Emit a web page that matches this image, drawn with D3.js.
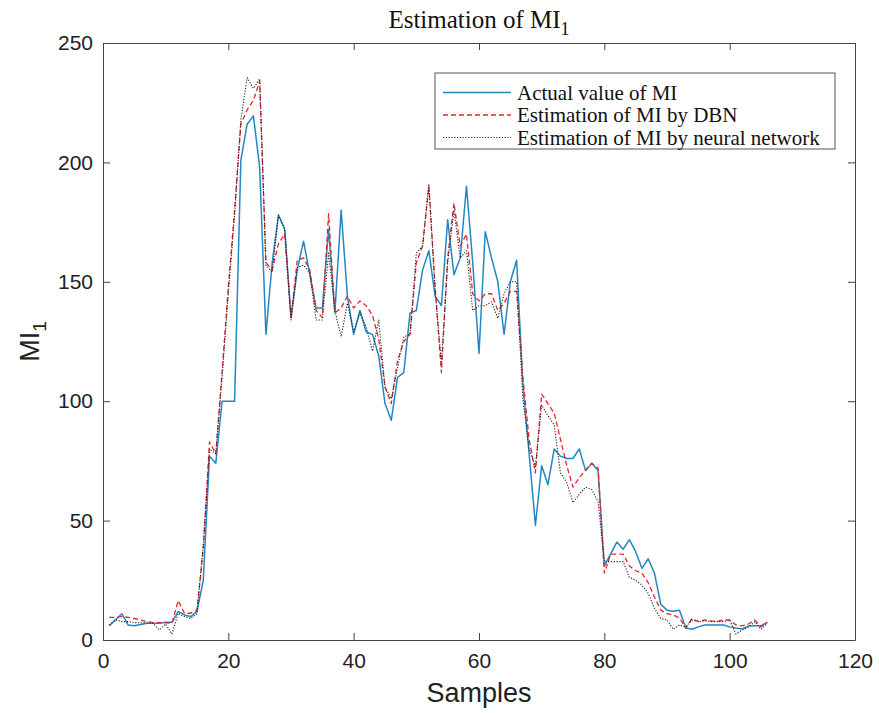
<!DOCTYPE html>
<html>
<head>
<meta charset="utf-8">
<script src="https://cdn.jsdelivr.net/npm/d3@7"></script>
<style>
  body { margin: 0; background: #fff; }
  svg { display: block; }
</style>
</head>
<body>
<svg id="chart" width="879" height="713"></svg>
<script>
// values, one per sample (1..106)
var actual = [6, 8.5, 11, 6.3, 6, 6.5, 7, 7, 7, 7.4, 7.4, 12, 10.5, 9.8, 12, 25,
  77, 74, 100, 100, 100, 201, 216, 219.5, 198, 128, 158, 178, 172, 135,
  155, 167, 153, 139, 139, 172, 137, 180, 144, 128, 138, 129, 128, 119, 99,
  92, 110, 112, 137, 138, 155, 163, 144, 140, 176, 153, 160, 190, 158, 120,
  171, 160, 150, 128, 150, 159, 107, 78, 48, 73, 65, 80, 77, 76, 76,
  80, 71, 74, 71, 31, 36, 41, 38, 42, 37, 30, 34, 28, 15, 12.5,
  12, 12.5, 5, 4.5, 5.5, 6.3, 6.3, 6.3, 6.3, 5.5, 5, 4.6, 5.9, 6, 6, 7.4];

var dbn = [9.5, 9.5, 9.8, 9.5, 9, 8.4, 7.7, 7.3, 7.3, 7.2, 7, 16.5, 11.2, 11.2, 12.6, 38,
  83, 78, 112, 148, 180, 216, 222, 226, 234, 158, 155, 166, 170, 135,
  159, 160, 155, 138, 135, 178.5, 137, 139, 144, 139, 142, 140, 136, 126, 106,
  99, 117, 125, 128, 158, 165, 190, 148, 112, 160, 183, 165, 170, 145, 142,
  145, 145, 138, 141, 146, 146, 110, 84, 70, 103, 99, 95, 84, 73, 64,
  68, 71, 74, 72, 28, 36, 36, 36, 31, 29, 28, 24, 18, 12.6, 11,
  10.5, 9.2, 5, 9, 7.7, 8.4, 8, 7.8, 8.4, 8.4, 6.3, 5.9, 6.7, 8.4, 5.5, 7.4];

var neural = [6.3, 8.4, 7.7, 7.7, 7.3, 7.2, 7.2, 7, 4.2, 6.7, 2.5, 11.2, 9.8, 9, 11, 40,
  80, 78, 110, 145, 178, 218, 235.5, 231, 235, 157, 154, 178, 172, 134,
  156, 157, 153.6, 134, 134, 162, 138, 127, 141, 129, 137, 131, 121, 134, 106,
  101, 114, 127, 128, 162, 165, 191, 146, 116, 158, 180, 160, 163, 138, 140,
  140, 141.6, 134.7, 145, 150, 150, 101, 80, 72.6, 98.4, 94, 90, 70, 66, 57.5,
  61, 64, 63, 58, 32.8, 32.8, 32.8, 32.8, 26.2, 25, 23, 19.5, 13.3, 9, 8.4,
  4.5, 6.3, 5.5, 8.4, 7.7, 8, 7.7, 7.7, 7.7, 8.4, 2.5, 4.2, 5.3, 7.7, 4.5, 7];

var xTicks = [0, 20, 40, 60, 80, 100, 120];
var yTicks = [0, 50, 100, 150, 200, 250];

var seriesNames = ["Actual value of MI", "Estimation of MI by DBN", "Estimation of MI by neural network"];

var svg = d3.select("#chart");
var margin = {top: 43, right: 24, bottom: 73, left: 103};
var width = 879 - margin.left - margin.right;
var height = 713 - margin.top - margin.bottom;

var g = svg.append("g").attr("transform", "translate(" + margin.left + "," + margin.top + ")");

var x = d3.scaleLinear().domain([0, 120]).range([0, width]);
var y = d3.scaleLinear().domain([0, 250]).range([height, 0]);

var styles = [
  {color: "#2288c4", width: 1.5, dash: null},
  {color: "#e3262d", width: 1.3, dash: "5,3"},
  {color: "#222", width: 1.1, dash: "1.2,1.6"}
];

var sets = [actual, dbn, neural];
var line = d3.line()
  .x(function(d, i) { return x(i + 1); })
  .y(function(d) { return y(d); });

sets.forEach(function(s, k) {
  g.append("path")
    .datum(s)
    .attr("fill", "none")
    .attr("stroke", styles[k].color)
    .attr("stroke-width", styles[k].width)
    .attr("stroke-dasharray", styles[k].dash)
    .attr("stroke-linejoin", "round")
    .attr("d", line);
});

// axes, matlab style: ticks inside, box all round
var axisColor = "#444";
var tickFont = "21px 'Liberation Sans', Arial, sans-serif";

var xb = g.append("g")
  .attr("transform", "translate(0," + height + ")")
  .call(d3.axisBottom(x).tickValues(xTicks).tickSizeInner(-7).tickSizeOuter(0).tickPadding(13));
var yl = g.append("g")
  .call(d3.axisLeft(y).tickValues(yTicks).tickSizeInner(-7).tickSizeOuter(0).tickPadding(10));
var xt = g.append("g")
  .call(d3.axisTop(x).tickValues(xTicks).tickSizeInner(-7).tickSizeOuter(0).tickFormat(""));
var yr = g.append("g")
  .attr("transform", "translate(" + width + ",0)")
  .call(d3.axisRight(y).tickValues(yTicks).tickSizeInner(-7).tickSizeOuter(0).tickFormat(""));

[xb, yl, xt, yr].forEach(function(a) {
  a.selectAll("path").attr("stroke", axisColor);
  a.selectAll("line").attr("stroke", axisColor);
  a.selectAll("text").style("font", tickFont).attr("fill", "#222");
});

// axis labels
svg.append("text")
  .attr("x", margin.left + width / 2)
  .attr("y", 702)
  .attr("text-anchor", "middle")
  .style("font", "27px 'Liberation Sans', Arial, sans-serif")
  .attr("fill", "#222")
  .text("Samples");

var ylab = svg.append("text")
  .attr("transform", "translate(39," + (margin.top + height / 2) + ") rotate(-90)")
  .attr("text-anchor", "middle")
  .style("font", "27px 'Liberation Sans', Arial, sans-serif")
  .attr("fill", "#222");
ylab.append("tspan").text("MI");
ylab.append("tspan").attr("dy", 7).style("font-size", "19px").text("1");

var title = svg.append("text")
  .attr("x", margin.left + width / 2)
  .attr("y", 28)
  .attr("text-anchor", "middle")
  .style("font", "25px 'Liberation Serif', 'Times New Roman', serif")
  .attr("fill", "#111");
title.append("tspan").text("Estimation of MI");
title.append("tspan").attr("dy", 7).style("font-size", "18px").text("1");

// legend
var legend = g.append("g").attr("transform", "translate(" + (435 - margin.left) + "," + (73 - margin.top) + ")");
legend.append("rect")
  .attr("width", 400)
  .attr("height", 76)
  .attr("fill", "#fff")
  .attr("stroke", "#555")
  .attr("stroke-width", 1);

var item = legend.selectAll("g.item")
  .data(seriesNames)
  .enter().append("g")
  .attr("class", "item")
  .attr("transform", function(d, i) { return "translate(0," + (19.5 + i * 22.5) + ")"; });

item.append("line")
  .attr("x1", 8).attr("x2", 76)
  .attr("stroke", function(d, i) { return styles[i].color; })
  .attr("stroke-width", function(d, i) { return styles[i].width; })
  .attr("stroke-dasharray", function(d, i) { return styles[i].dash; });

item.append("text")
  .attr("x", 82)
  .attr("dy", "0.35em")
  .style("font", "21px 'Liberation Serif', 'Times New Roman', serif")
  .attr("fill", "#111")
  .text(function(d) { return d; });
</script>
</body>
</html>
